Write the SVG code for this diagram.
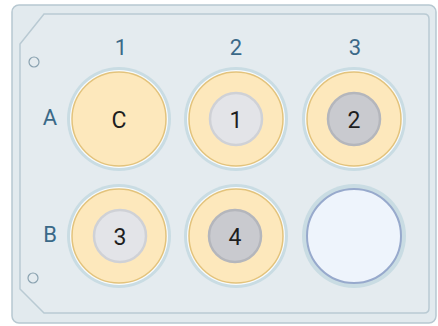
<svg xmlns="http://www.w3.org/2000/svg" width="438" height="326" viewBox="0 0 438 326">
<style>
.lbl{font-family:"Roboto","Liberation Sans",sans-serif;font-size:22px;fill:#3b6988;text-anchor:middle}
.num{font-family:"Roboto","Liberation Sans",sans-serif;font-size:23px;fill:#1e1e1e;text-anchor:middle}
.halo{fill:#c9dce3}
.rim{fill:#f7fbfd}
.med{fill:#fde8bc;stroke:#e3c37c;stroke-width:1.5}
.sl{fill:#e3e4e8;stroke:#cfd1d6;stroke-width:2.5}
.sd{fill:#c9cacf;stroke:#b4b6bc;stroke-width:2.5}
.empty{fill:#eef4fc;stroke:#97a9cc;stroke-width:2}
.hole{fill:none;stroke:#8aa2b0;stroke-width:1.2}
</style>
<rect width="438" height="326" fill="#ffffff"/>
<g id="plate">
<rect x="12" y="5" width="424" height="318" rx="7" fill="#e2eaee" stroke="#b7c8d1" stroke-width="1.5"/>
<path d="M44,14 H424 Q429,14 429,19 V308 Q429,313 424,313 H44 L20,289 V44 Z" fill="#e4ebef" stroke="#b9cad3" stroke-width="1.5"/>
<circle class="hole" cx="34" cy="62" r="5"/>
<circle class="hole" cx="33" cy="278" r="5"/>
</g>
<g id="labels">
<text class="lbl" x="121" y="55">1</text>
<text class="lbl" x="236" y="55">2</text>
<text class="lbl" x="355" y="55">3</text>
<text class="lbl" x="50" y="125">A</text>
<text class="lbl" x="50" y="242">B</text>
</g>
<g id="wellA1">
<circle class="halo" cx="119" cy="119" r="52"/>
<circle class="rim" cx="119" cy="119" r="49"/>
<circle class="med" cx="119" cy="119" r="47"/>
<text class="num" x="119" y="127.5">C</text>
</g>
<g id="wellA2">
<circle class="halo" cx="236" cy="119" r="52"/>
<circle class="rim" cx="236" cy="119" r="49"/>
<circle class="med" cx="236" cy="119" r="47"/>
<circle class="sl" cx="236" cy="119" r="26"/>
<text class="num" x="236" y="127.5">1</text>
</g>
<g id="wellA3">
<circle class="halo" cx="354" cy="119" r="52"/>
<circle class="rim" cx="354" cy="119" r="49"/>
<circle class="med" cx="354" cy="119" r="47"/>
<circle class="sd" cx="354" cy="119" r="26"/>
<text class="num" x="354" y="127.5">2</text>
</g>
<g id="wellB1">
<circle class="halo" cx="119" cy="236" r="52"/>
<circle class="rim" cx="119" cy="236" r="49"/>
<circle class="med" cx="119" cy="236" r="47"/>
<circle class="sl" cx="120" cy="236" r="26"/>
<text class="num" x="120" y="244.5">3</text>
</g>
<g id="wellB2">
<circle class="halo" cx="236" cy="236" r="52"/>
<circle class="rim" cx="236" cy="236" r="49"/>
<circle class="med" cx="236" cy="236" r="47"/>
<circle class="sd" cx="235" cy="236" r="26"/>
<text class="num" x="235" y="244.5">4</text>
</g>
<g id="wellB3">
<circle class="halo" cx="354" cy="236" r="52"/>
<circle class="empty" cx="354" cy="236" r="47"/>
</g>
<g id="connectors"></g>
</svg>
